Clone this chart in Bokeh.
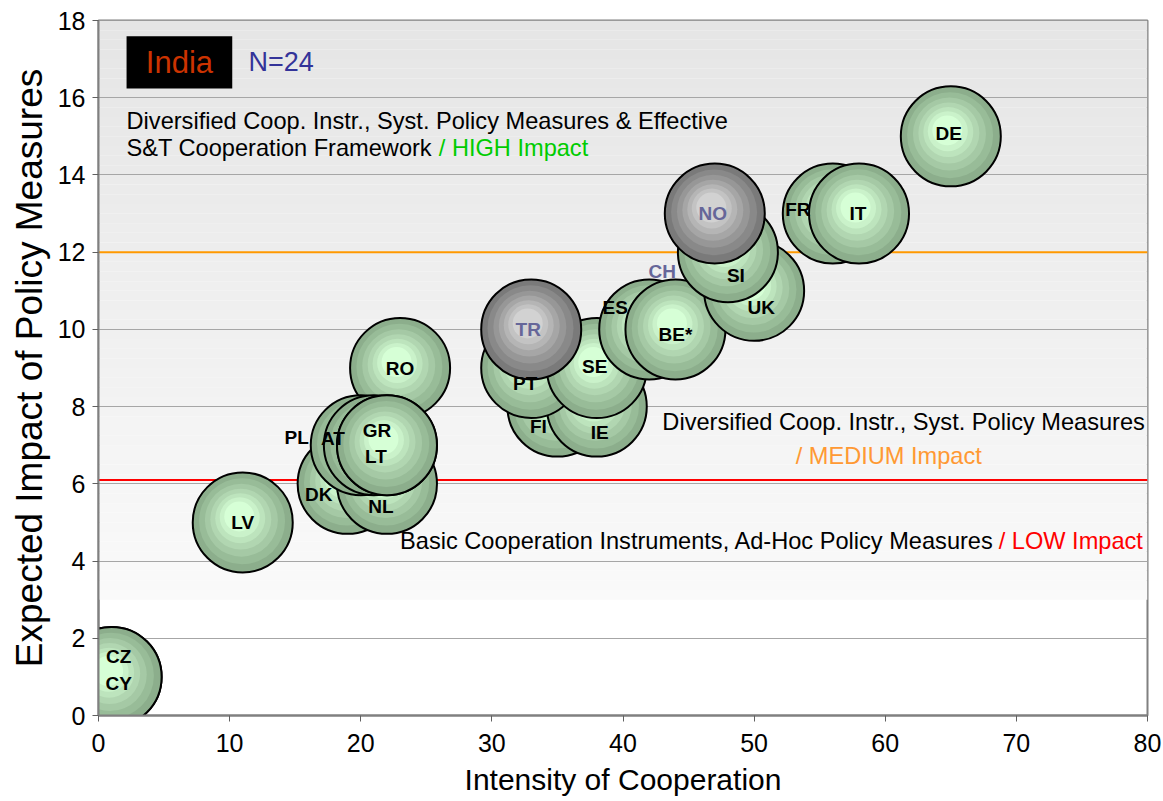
import numpy as np
from bokeh.plotting import figure
from bokeh.models import Span, Label, BoxAnnotation, FixedTicker
from bokeh.core.properties import value
from bokeh.embed import file_html
from bokeh.resources import INLINE

# ---------------- data ----------------
countries = ["CZ", "CY", "LV", "RO", "DK", "NL", "PL", "AT", "GR", "LT",
             "FI", "IE", "PT", "SE", "TR", "CH", "ES", "BE*", "UK", "SI",
             "NO", "FR", "IT", "DE"]
intensity = [1, 1, 11, 23, 19, 22, 20, 21, 22, 22,
             35, 38, 33, 38, 33, 43, 42, 44, 50, 48,
             47, 56, 58, 65]
impact = [1, 1, 5, 9, 6, 6, 7, 7, 7, 7,
          8, 8, 9, 9, 10, 11, 10, 10, 11, 12,
          13, 13, 13, 15]
# member type: "eu" (green bubble), "assoc" (grey bubble), "none" (label only)
member = ["eu", "eu", "eu", "eu", "eu", "eu", "eu", "eu", "eu", "eu",
          "eu", "eu", "eu", "eu", "assoc", "none", "eu", "eu", "eu", "eu",
          "assoc", "eu", "eu", "eu"]
thresholds = [12, 6.1]
threshold_colors = ["#ff9900", "#ff0000"]
x_ticks = [0, 10, 20, 30, 40, 50, 60, 70, 80]
y_ticks = [0, 2, 4, 6, 8, 10, 12, 14, 16, 18]

# label nudges in screen pixels (styling, not data)
label_dx = [7, 7, 0, 0, -29, -6, -64, -41, -10, -11,
            -19, 3, -6, -2, -3, 0, -34, 0, 7, 8,
            -2, -35, -1, -2]
label_dy = [-20, 7, 0, 0, 11, 23, -8, -7, -15, 11,
            20, 26, 15, -2, 0, -19, -22, 5, 17, 23,
            0, -4, 0, -3]

FONT = "Liberation Sans"
XLIM = (0, 80)
YLIM = (0, 18)
W, H = 1163, 800
ML, MR, MT, MB = 98, 16, 20, 85
FW, FH = W - ML - MR, H - MT - MB
ppx = FW / (XLIM[1] - XLIM[0])
ppy = FH / (YLIM[1] - YLIM[0])

p = figure(width=W, height=H, x_range=XLIM, y_range=YLIM,
           output_backend="svg", toolbar_location=None,
           min_border_left=ML, min_border_right=MR,
           min_border_top=MT, min_border_bottom=MB,
           background_fill_color="white", border_fill_color="white")

# background stepped gradient (grey at top -> white at y=3)
band_edges = np.arange(3, 18.001, 0.25)
for b0, b1 in zip(band_edges[:-1], band_edges[1:]):
    mid = (b0 + b1) / 2
    g = int(round(250 - (mid - 3) * (21 / 15)))
    p.quad(left=XLIM[0], right=XLIM[1], bottom=b0, top=b1,
           fill_color=(g, g, g), line_color=None, level="image")

# threshold lines
for t, c in zip(thresholds, threshold_colors):
    p.add_layout(Span(location=t, dimension="width", line_color=c,
                      line_width=2, level="underlay"))

# bubbles
R = 50
fracs = [1.0, 0.86, 0.73, 0.61, 0.5, 0.4, 0.3]
green_out, green_in = np.array([140, 174, 140]), np.array([214, 255, 214])
grey_out, grey_in = np.array([122, 122, 122]), np.array([210, 210, 210])

for i in range(len(countries)):
    if member[i] == "none":
        continue
    x, y = intensity[i], impact[i]
    cout, cin = (green_out, green_in) if member[i] == "eu" else (grey_out, grey_in)
    n = len(fracs)
    for k, f in enumerate(fracs):
        t = k / (n - 1)
        col = tuple(int(v) for v in np.round(cout + (cin - cout) * t))
        ox = -0.10 * (1 - f) * R
        oy = 0.17 * (1 - f) * R
        p.scatter(x=[x + ox / ppx], y=[y + oy / ppy], size=2 * R * f,
                  fill_color=col,
                  line_color="black" if k == 0 else None,
                  line_width=2 if k == 0 else 0)

# data labels on top of all bubbles
label_colors = ["black" if m == "eu" else "#666699" for m in member]
p.text(x=intensity, y=impact, text=countries,
       x_offset=label_dx, y_offset=label_dy,
       text_align="center", text_baseline="middle",
       text_font=value(FONT), text_font_style="bold",
       text_font_size="19px", text_color=label_colors)

# axes styling
for ax in (p.xaxis[0], p.yaxis[0]):
    ax.axis_line_color = "#808080"
    ax.axis_line_width = 2
    ax.major_tick_line_color = "#606060"
    ax.major_tick_out = 6
    ax.major_tick_in = 0
    ax.minor_tick_line_color = None
    ax.major_label_text_font = FONT
    ax.major_label_text_font_size = "25px"
    ax.major_label_text_color = "black"
    ax.axis_label_text_font = FONT
    ax.axis_label_text_font_style = "normal"
    ax.axis_label_text_color = "black"

p.xaxis.ticker = FixedTicker(ticks=x_ticks)
p.yaxis.ticker = FixedTicker(ticks=y_ticks)
p.xaxis.axis_label = "Intensity of Cooperation"
p.yaxis.axis_label = "Expected Impact of Policy Measures"
p.xaxis.axis_label_text_font_size = "30px"
p.yaxis.axis_label_text_font_size = "37px"
p.xaxis.major_label_standoff = 12
p.yaxis.major_label_standoff = 7
p.xaxis.axis_label_standoff = 8
p.yaxis.axis_label_standoff = 5

p.xgrid.grid_line_color = None
p.ygrid.ticker = FixedTicker(ticks=y_ticks)
p.ygrid.grid_line_color = "#a6a6a6"
p.ygrid.grid_line_width = 1
p.outline_line_color = "#808080"
p.outline_line_width = 2

# annotations
p.add_layout(BoxAnnotation(left=2.14, right=10.2, bottom=16.24, top=17.59,
                           fill_color="black", fill_alpha=1.0, line_color=None,
                           level="annotation"))


def lab(x, y, text, color="black", size="23.6px", align="left"):
    p.add_layout(Label(x=x, y=y, text=text, text_color=color,
                       text_font=FONT, text_font_size=size,
                       text_align=align, text_baseline="middle"))


lab(6.17, 16.92, "India", color="#cc3300", size="31px", align="center")
lab(11.44, 16.92, "N=24", color="#333399", size="27px")
lab(2.14, 15.41, "Diversified Coop. Instr., Syst. Policy Measures & Effective")
lab(2.14, 14.71, "S&T Cooperation Framework")
lab(25.95, 14.71, "/ HIGH Impact", color="#00cc00")
lab(79.8, 7.59, "Diversified Coop. Instr., Syst. Policy Measures", align="right")
lab(53.17, 6.71, "/ MEDIUM Impact", color="#ff9933")
lab(68.3, 4.53, "Basic Cooperation Instruments, Ad-Hoc Policy Measures", align="right")
lab(68.65, 4.53, "/ LOW Impact", color="#ff0000")

open("out.html", "w").write(file_html(p, INLINE))
